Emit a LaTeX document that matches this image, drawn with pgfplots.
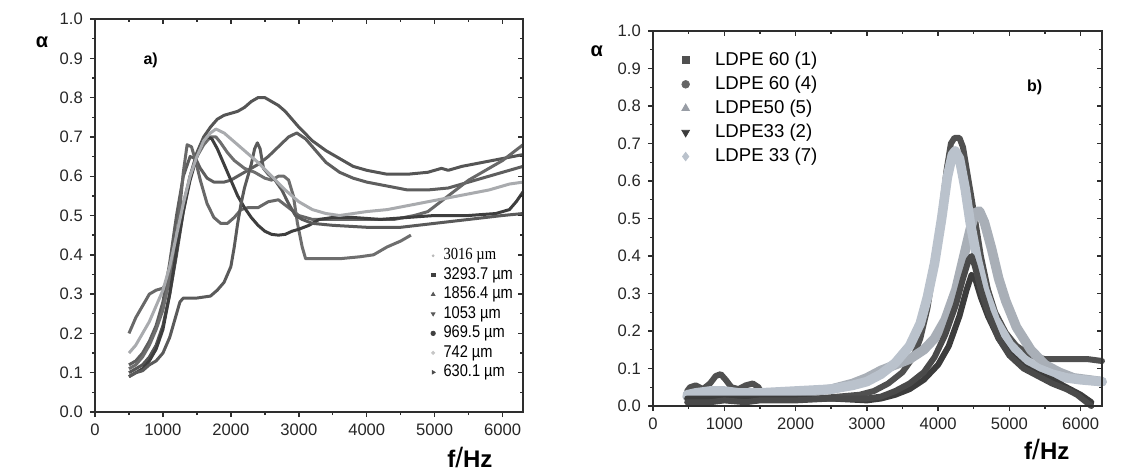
\documentclass[border=0pt]{standalone}
\usepackage{fontspec}
\setmainfont{Liberation Sans}
\newfontfamily\serifft{Liberation Serif}
\usepackage{graphicx}
\usepackage{pgfplots}
\pgfplotsset{compat=1.18}
\newcommand\nl[1]{\scalebox{0.86}[1]{#1}}
\definecolor{axc}{HTML}{2E2E2E}
\definecolor{cA}{HTML}{555555}
\definecolor{cB}{HTML}{5E5E5E}
\definecolor{cC}{HTML}{686868}
\definecolor{cD}{HTML}{6E6E6E}
\definecolor{cE}{HTML}{3E3E3E}
\definecolor{cF}{HTML}{A9ABAE}
\definecolor{cG}{HTML}{5A5A5A}
\definecolor{rA}{HTML}{505050}
\definecolor{rB}{HTML}{4A4A4A}
\definecolor{rC}{HTML}{A9AFB7}
\definecolor{rD}{HTML}{3C3C3C}
\definecolor{rE}{HTML}{BAC2CC}
\pgfplotsset{
  base/.style={scale only axis, anchor=south west,
    xmin=0, xmax=6300, ymin=0, ymax=1,
    xtick={0,1000,2000,3000,4000,5000,6000},
    ytick={0,0.1,0.2,0.3,0.4,0.5,0.6,0.7,0.8,0.9,1.0},
    minor x tick num=1, minor y tick num=1,
    axis line style={draw=axc, line width=0.9pt},
    tick style={draw=axc, line width=0.7pt},
    major tick length=2.6pt, minor tick length=1.5pt,
    /pgf/number format/1000 sep={},
    /pgf/number format/assume math mode=true,
    tick label style={font=\fontsize{8.3}{9}\selectfont, text=black!85},
    yticklabel style={/pgf/number format/.cd, fixed, fixed zerofill, precision=1},
    clip=false},
  lowerticks/.style={base, xtick pos=left, ytick pos=left, tick align=outside},
  upperticks/.style={base, xtick pos=right, ytick pos=right, tick align=inside,
    xticklabels={}, yticklabels={}},
  cl/.style={no markers, line width=1.5pt, line join=round, forget plot},
  band/.style={no markers, line width=#1, line join=round, line cap=round, forget plot},
}
\begin{document}
\begin{tikzpicture}
\useasboundingbox (0,0) rectangle (572.5pt,236pt);
% ---------------- panel a ----------------
\begin{axis}[lowerticks, at={(47.5pt,30pt)}, width=214pt, height=196.5pt,
  legend style={at={(0.77,0.43)}, anchor=north west, draw=none, fill=none,
    font=\fontsize{8.5}{9.5}\selectfont, row sep=1.1pt, nodes={inner sep=0.6pt},
    /tikz/every odd column/.append style={column sep=3.5pt}},
  legend cell align=left,
  legend image code/.code={\draw[mark repeat=2,mark phase=2,#1] plot coordinates {(0cm,0cm) (0.1cm,0cm) (0.2cm,0cm)};}]
% A: 0.8 peak
\addplot[cl, color=cA] coordinates {(500,0.10)(600,0.11)(700,0.12)(800,0.14)(900,0.17)(1000,0.22)(1100,0.30)(1200,0.40)(1300,0.51)(1400,0.60)(1500,0.66)(1600,0.70)(1700,0.725)(1800,0.745)(1900,0.755)(2000,0.76)(2100,0.765)(2200,0.775)(2300,0.79)(2400,0.80)(2500,0.80)(2600,0.79)(2700,0.78)(2800,0.765)(2900,0.745)(3000,0.725)(3200,0.69)(3400,0.665)(3600,0.645)(3800,0.625)(4000,0.615)(4300,0.605)(4600,0.605)(4900,0.61)(5100,0.62)(5200,0.615)(5400,0.625)(5700,0.635)(6000,0.645)(6300,0.655)};
% B: 0.71 peak at 2970
\addplot[cl, color=cB] coordinates {(500,0.12)(600,0.13)(700,0.15)(800,0.18)(900,0.22)(1000,0.28)(1100,0.38)(1200,0.50)(1300,0.60)(1400,0.65)(1480,0.645)(1550,0.62)(1650,0.595)(1750,0.585)(1900,0.585)(2000,0.59)(2100,0.60)(2250,0.615)(2400,0.63)(2550,0.65)(2700,0.675)(2850,0.70)(2970,0.71)(3100,0.695)(3250,0.665)(3400,0.635)(3600,0.61)(3800,0.595)(4000,0.585)(4300,0.575)(4600,0.565)(4900,0.565)(5200,0.57)(5500,0.585)(5800,0.60)(6100,0.615)(6300,0.625)};
% C: leftmost
\addplot[cl, color=cC] coordinates {(500,0.20)(550,0.22)(600,0.24)(700,0.27)(800,0.30)(900,0.31)(1000,0.315)(1100,0.34)(1150,0.38)(1200,0.44)(1250,0.52)(1300,0.61)(1356,0.68)(1420,0.675)(1480,0.64)(1550,0.59)(1650,0.53)(1750,0.495)(1850,0.48)(1950,0.48)(2050,0.495)(2150,0.515)(2250,0.52)(2400,0.52)(2550,0.535)(2700,0.54)(2850,0.52)(3000,0.50)(3200,0.49)(3500,0.49)(4000,0.49)(4400,0.49)(4700,0.50)(4900,0.51)(5200,0.55)(5500,0.59)(5800,0.62)(6000,0.64)(6300,0.68)};
% D: 0.70 at 1750, bump, drop to 0.39
\addplot[cl, color=cD] coordinates {(500,0.11)(600,0.12)(700,0.14)(800,0.17)(900,0.21)(1000,0.26)(1100,0.34)(1200,0.44)(1300,0.53)(1400,0.60)(1500,0.65)(1600,0.68)(1700,0.70)(1780,0.70)(1850,0.685)(1950,0.66)(2050,0.64)(2200,0.62)(2350,0.61)(2500,0.595)(2600,0.59)(2700,0.60)(2780,0.60)(2850,0.59)(2920,0.55)(2980,0.48)(3050,0.42)(3100,0.39)(3300,0.39)(3600,0.39)(3900,0.395)(4100,0.40)(4300,0.42)(4500,0.435)(4650,0.45)};
% E: dark, dip 0.45
\addplot[cl, color=cE] coordinates {(500,0.09)(600,0.10)(700,0.11)(800,0.13)(900,0.16)(1000,0.21)(1100,0.30)(1200,0.41)(1300,0.51)(1400,0.59)(1500,0.65)(1600,0.69)(1660,0.70)(1720,0.695)(1800,0.67)(1900,0.63)(2000,0.59)(2100,0.55)(2200,0.52)(2300,0.495)(2400,0.475)(2500,0.46)(2600,0.452)(2700,0.45)(2800,0.452)(2900,0.46)(3000,0.465)(3150,0.475)(3300,0.49)(3500,0.495)(3800,0.495)(4200,0.49)(4600,0.495)(5000,0.50)(5500,0.50)(5900,0.505)(6100,0.515)(6200,0.535)(6300,0.56)};
% G: plateau
\addplot[cl, color=cG] coordinates {(500,0.09)(600,0.10)(700,0.105)(800,0.12)(900,0.13)(1000,0.15)(1100,0.19)(1200,0.25)(1250,0.28)(1300,0.29)(1500,0.29)(1700,0.295)(1800,0.31)(1900,0.33)(2000,0.37)(2050,0.42)(2100,0.48)(2150,0.53)(2200,0.57)(2250,0.60)(2300,0.63)(2350,0.67)(2390,0.685)(2430,0.67)(2480,0.62)(2550,0.605)(2650,0.59)(2750,0.565)(2850,0.53)(2950,0.50)(3050,0.49)(3200,0.48)(3500,0.475)(4000,0.47)(4500,0.47)(5000,0.48)(5500,0.49)(6000,0.50)(6300,0.505)};
% F: light grey
\addplot[cl, color=cF] coordinates {(500,0.15)(600,0.17)(700,0.20)(800,0.23)(900,0.27)(1000,0.31)(1100,0.37)(1200,0.45)(1300,0.53)(1400,0.60)(1500,0.65)(1600,0.69)(1700,0.71)(1780,0.72)(1900,0.71)(2000,0.695)(2200,0.665)(2400,0.635)(2600,0.60)(2800,0.565)(3000,0.535)(3200,0.515)(3400,0.505)(3600,0.50)(3800,0.505)(4000,0.51)(4300,0.515)(4600,0.525)(4900,0.535)(5200,0.545)(5500,0.555)(5800,0.565)(6100,0.58)(6300,0.585)};
\addlegendimage{only marks, mark=*, mark size=0.5pt, color=gray!55}
\addlegendentry{\nl{\serifft 3016 µm}}
\addlegendimage{only marks, mark=square*, mark size=0.9pt, color=black!75}
\addlegendentry{\nl{3293.7 µm}}
\addlegendimage{only marks, mark=triangle*, mark size=1.0pt, color=black!65}
\addlegendentry{\nl{1856.4 µm}}
\addlegendimage{only marks, mark=triangle*, mark options={rotate=180}, mark size=1.0pt, color=black!65}
\addlegendentry{\nl{1053 µm}}
\addlegendimage{only marks, mark=*, mark size=1.1pt, color=black!75}
\addlegendentry{\nl{969.5 µm}}
\addlegendimage{only marks, mark=*, mark size=0.8pt, color=gray!45}
\addlegendentry{\nl{742 µm}}
\addlegendimage{only marks, mark=triangle*, mark options={rotate=-90}, mark size=1.0pt, color=black!70}
\addlegendentry{\nl{630.1 µm}}
\node[font=\bfseries\fontsize{10}{12}\selectfont] at (rel axis cs:-0.124,0.94) {α};
\node[font=\bfseries\fontsize{8}{10}\selectfont] at (rel axis cs:0.13,0.895) {a)};
\node[font=\fontsize{12}{14}\selectfont] at (rel axis cs:0.876,-0.117) {\textbf{f}{\fontsize{14}{14}\selectfont/}\textbf{Hz}};
\end{axis}
\begin{axis}[upperticks, at={(47.5pt,30pt)}, width=214pt, height=196.5pt]
\end{axis}
% ---------------- panel b ----------------
\begin{axis}[lowerticks, at={(326.5pt,33pt)}, width=224.5pt, height=187.5pt,
  legend style={at={(0.05,0.96)}, anchor=north west, draw=none, fill=none,
    font=\fontsize{9.3}{10}\selectfont, row sep=2.2pt, nodes={inner sep=0.8pt},
    /tikz/every odd column/.append style={column sep=12pt}},
  legend cell align=left,
  legend image code/.code={\draw[mark repeat=2,mark phase=2,#1] plot coordinates {(0cm,0cm) (0.1cm,0cm) (0.2cm,0cm)};}]
\addplot[band=3.0pt, color=rA] coordinates {(480,0.04)(520,0.05)(600,0.055)(700,0.045)(800,0.06)(880,0.08)(950,0.085)(1020,0.07)(1100,0.05)(1200,0.045)(1300,0.055)(1400,0.06)(1480,0.05)(1550,0.025)(1700,0.02)(2000,0.02)(2300,0.02)(2600,0.025)(2900,0.03)(3100,0.04)(3300,0.06)(3500,0.09)(3650,0.13)(3750,0.18)(3850,0.26)(3950,0.38)(4050,0.52)(4120,0.63)(4180,0.70)(4230,0.715)(4300,0.715)(4350,0.69)(4420,0.61)(4500,0.52)(4600,0.40)(4700,0.31)(4800,0.25)(4950,0.195)(5100,0.16)(5300,0.135)(5500,0.125)(5800,0.125)(6100,0.125)(6300,0.12)};
\addplot[band=4.8pt, color=rC] coordinates {(480,0.025)(800,0.03)(1200,0.03)(1600,0.03)(2000,0.035)(2500,0.045)(2800,0.06)(3000,0.075)(3200,0.095)(3400,0.11)(3600,0.125)(3800,0.15)(3950,0.18)(4100,0.23)(4250,0.31)(4350,0.39)(4450,0.47)(4520,0.515)(4580,0.52)(4650,0.49)(4750,0.42)(4850,0.34)(4950,0.28)(5100,0.21)(5300,0.15)(5500,0.11)(5700,0.09)(5900,0.075)(6100,0.07)(6300,0.065)};
\addplot[band=4.8pt, color=rE] coordinates {(480,0.03)(600,0.035)(800,0.04)(1000,0.04)(1200,0.035)(1500,0.035)(2000,0.04)(2500,0.045)(2800,0.055)(3000,0.065)(3200,0.085)(3400,0.115)(3600,0.16)(3750,0.22)(3850,0.29)(3950,0.38)(4050,0.50)(4130,0.61)(4200,0.67)(4240,0.68)(4300,0.66)(4380,0.58)(4450,0.49)(4550,0.39)(4650,0.31)(4800,0.23)(5000,0.165)(5200,0.125)(5400,0.10)(5600,0.085)(5800,0.075)(6000,0.07)(6300,0.065)};
\addplot[band=3.0pt, color=rD] coordinates {(480,0.02)(800,0.02)(1200,0.02)(1600,0.02)(2000,0.02)(2500,0.02)(3000,0.015)(3200,0.02)(3400,0.03)(3600,0.045)(3800,0.07)(4000,0.11)(4150,0.16)(4300,0.24)(4400,0.31)(4470,0.35)(4520,0.34)(4600,0.29)(4700,0.24)(4850,0.18)(5000,0.14)(5200,0.105)(5400,0.085)(5600,0.07)(5800,0.05)(6000,0.03)(6150,0.01)};
\addplot[band=3.0pt, color=rB] coordinates {(480,0.01)(800,0.01)(1000,0.015)(1300,0.01)(1500,0.015)(2000,0.015)(2500,0.02)(3000,0.02)(3200,0.025)(3400,0.04)(3600,0.06)(3800,0.09)(3950,0.13)(4100,0.19)(4250,0.27)(4350,0.34)(4430,0.39)(4470,0.40)(4520,0.37)(4600,0.31)(4700,0.25)(4850,0.18)(5000,0.135)(5200,0.10)(5400,0.08)(5600,0.06)(5800,0.045)(5950,0.03)(6050,0.015)(6150,0.0)};
\addlegendimage{only marks, mark=square*, mark size=1.8pt, color=rA}
\addlegendentry{LDPE 60 (1)}
\addlegendimage{only marks, mark=*, mark size=1.9pt, color=rB!85}
\addlegendentry{LDPE 60 (4)}
\addlegendimage{only marks, mark=triangle*, mark size=2.2pt, color=rC!90!black}
\addlegendentry{LDPE50 (5)}
\addlegendimage{only marks, mark=triangle*, mark options={rotate=180}, mark size=2.2pt, color=rD}
\addlegendentry{LDPE33 (2)}
\addlegendimage{only marks, mark=diamond*, mark size=2.1pt, color=rE}
\addlegendentry{LDPE 33 (7)}
\node[font=\bfseries\fontsize{10}{12}\selectfont] at (rel axis cs:-0.125,0.945) {α};
\node[font=\bfseries\fontsize{8}{10}\selectfont] at (rel axis cs:0.85,0.85) {b)};
\node[font=\fontsize{12}{14}\selectfont] at (rel axis cs:0.877,-0.117) {\textbf{f}{\fontsize{14}{14}\selectfont/}\textbf{Hz}};
\end{axis}
\begin{axis}[upperticks, at={(326.5pt,33pt)}, width=224.5pt, height=187.5pt]
\end{axis}
\end{tikzpicture}
\end{document}
